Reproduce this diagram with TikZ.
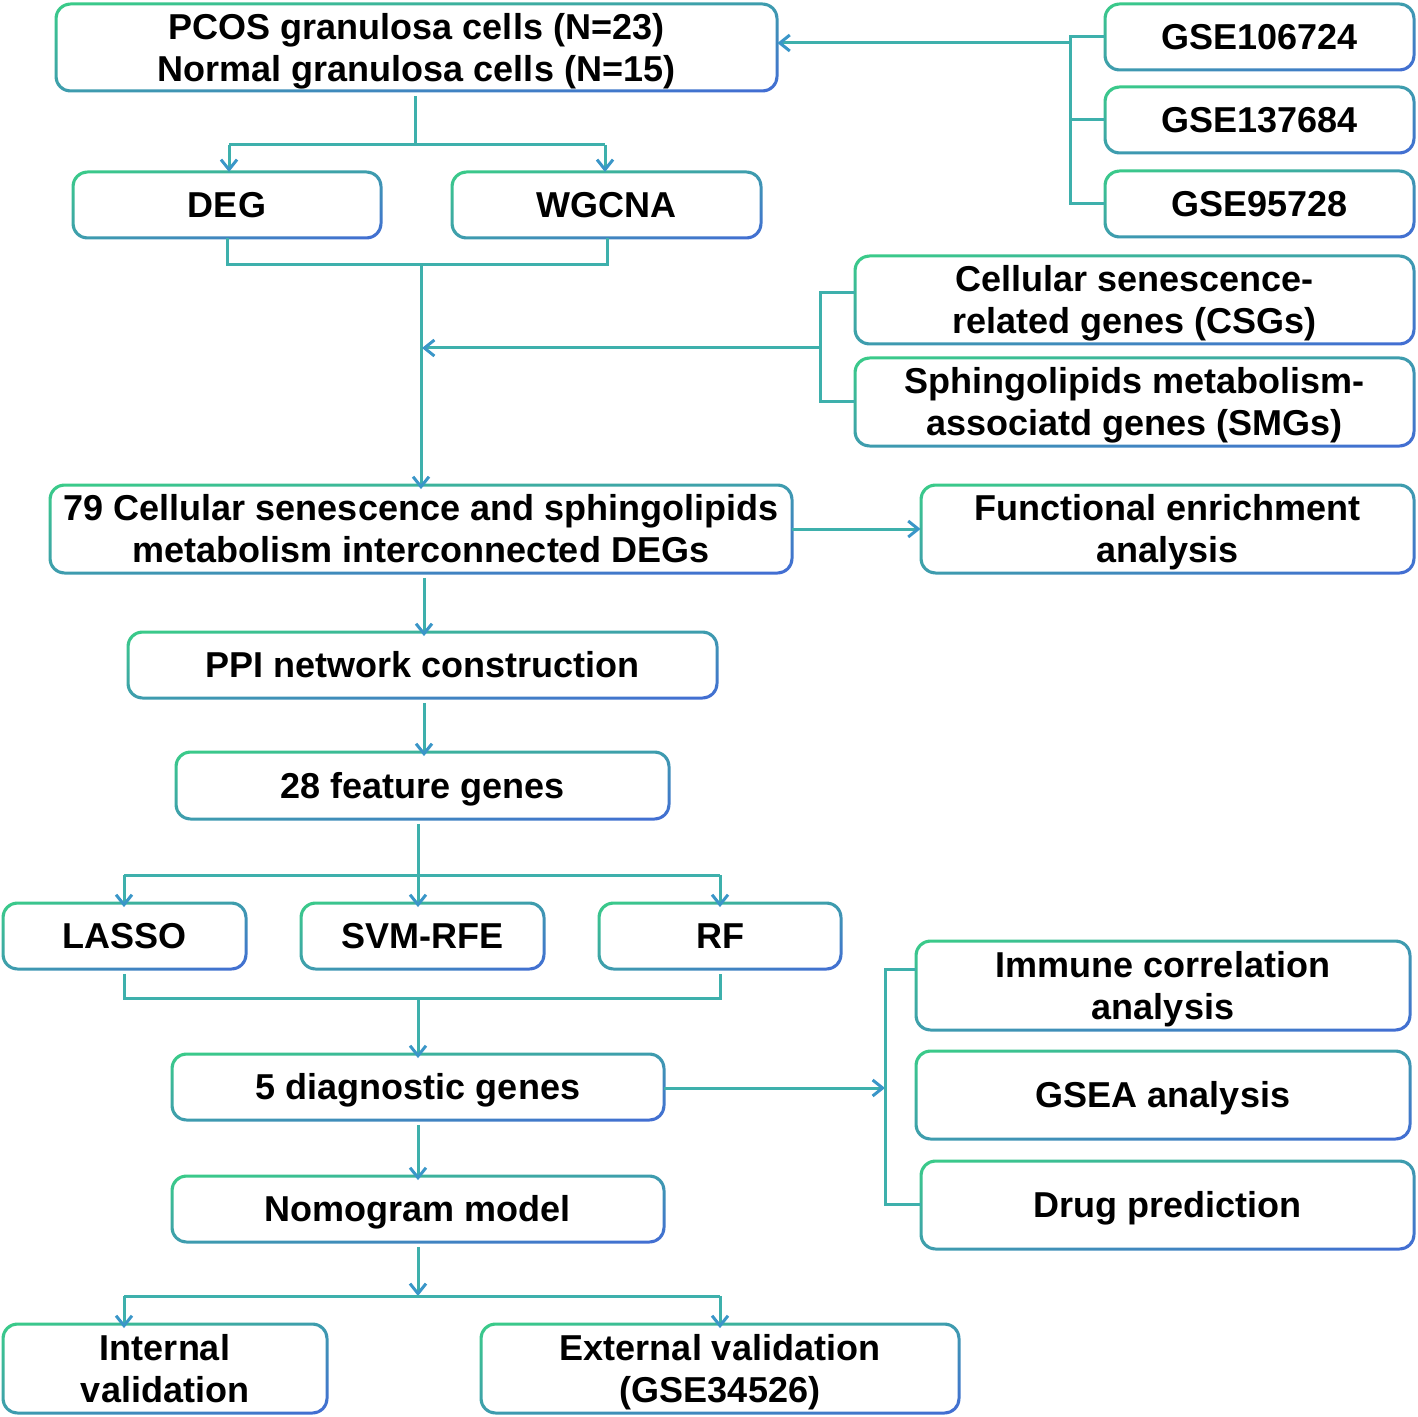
\documentclass[tikz,border=0pt]{standalone}
\usepackage{fontspec}
\setmainfont{Liberation Sans}
\usetikzlibrary{arrows.meta,calc}
\definecolor{gG}{RGB}{58,204,136}
\definecolor{gB}{RGB}{66,108,212}
\definecolor{cn}{RGB}{62,176,172}
\definecolor{ca}{RGB}{58,150,200}
\tikzset{
  boxtext/.style={inner sep=0pt, align=center, font=\bfseries\fontsize{18}{21}\selectfont, text=black, yshift=-2.25pt},
  two/.style={},
  conn/.style={draw=cn, line width=1.5pt},
  arr/.style={conn, -{Straight Barb[length=5pt,width=8pt,line width=1.5pt,color=ca]}},
}
\newcommand\gbox[7][]{%
  \node[boxtext, minimum width={(#5-#3)*0.5pt}, minimum height={(#6-#4)*0.5pt}, #1] (#2) at ({(#3+#5)/2},{(#4+#6)/2}) {\strut #7\strut};
  \pgfmathsetmacro\gw{(#5-#3)*0.25+0.75}%
  \pgfmathsetmacro\gh{(#6-#4)*0.25+0.75}%
  \pgfmathsetmacro\gd{veclen(\gw,\gh)}%
  \pgfmathsetmacro\gH{2*(\gw/\gd)*\gh}%
  \pgfmathsetmacro\ga{atan2(\gh,\gw)}%
  \pgfmathsetmacro\gx{(#3+#5)*0.25}%
  \pgfmathsetmacro\gy{-(#4+#6)*0.25}%
  \begin{scope}[even odd rule]
  \clip [rounded corners=8pt] ({#3-1.5},{#4-1.5}) rectangle ({#5+1.5},{#6+1.5})
     [rounded corners=6.5pt] ({#3+1.5},{#4+1.5}) rectangle ({#5-1.5},{#6-1.5});
  \begin{scope}[transform canvas={shift={(\gx pt,\gy pt)}, rotate=\ga}]
  \shade[top color=gG, bottom color=gB]
     (-\gd pt-4pt,-\gH pt) rectangle (\gd pt+4pt,\gH pt);
  \end{scope}
  \end{scope}
}
\begin{document}
\begin{tikzpicture}[x=0.5pt,y=-0.5pt]
\useasboundingbox (0,0) rectangle (1418,1417);
\gbox[two]{top}{56}{4}{777}{91}{PCOS granulosa cells (N=23)\\Normal granulosa cells (N=15)}
\gbox{deg}{73}{172}{381}{238}{DEG}
\gbox{wg}{452}{172}{761}{238}{WGCNA}
\gbox{ga}{1105}{4}{1414}{70}{GSE106724}
\gbox{gb}{1105}{87}{1414}{153}{GSE137684}
\gbox{gc}{1105}{171}{1414}{237}{GSE95728}
\gbox[two]{csg}{855}{256}{1414}{344}{Cellular senescence-\\related genes (CSGs)}
\gbox[two]{smg}{855}{358}{1414}{446}{Sphingolipids metabolism-\\associatd genes (SMGs)}
\gbox[two]{deg79}{50}{485}{792}{573}{79 Cellular senescence and sphingolipids\\metabolism interconnected DEGs}
\gbox[two]{fea}{921}{485}{1414}{573}{Functional enrichment\\analysis}
\gbox{ppi}{128}{632}{717}{698}{PPI network construction}
\gbox{f28}{176}{752}{669}{819}{28 feature genes}
\gbox{lasso}{3}{903}{246}{969}{LASSO}
\gbox{svm}{301}{903}{544}{969}{SVM-RFE}
\gbox{rf}{599}{903}{841}{969}{RF}
\gbox[two]{imm}{916}{941}{1410}{1030}{Immune correlation\\analysis}
\gbox{gsea}{916}{1051}{1410}{1139}{GSEA analysis}
\gbox{drug}{921}{1161}{1414}{1249}{Drug prediction}
\gbox{d5}{172}{1054}{664}{1120}{5 diagnostic genes}
\gbox{nomo}{172}{1176}{664}{1242}{Nomogram model}
\gbox[two]{intv}{3}{1324}{327}{1413}{Internal\\validation}
\gbox[two]{extv}{481}{1324}{959}{1413}{External validation\\(GSE34526)}
% top split
\coordinate (j1) at (415,145);
\draw[conn] (top.south -| j1) -- (j1);
\draw[conn] (229,145) -- (605,145);
\draw[arr] (229,145) -- (229,172);
\draw[arr] (605,145) -- (605,172);
% GSE bracket
\coordinate (bg) at (1070,43);
\draw[conn] (ga.west |- 0,37) -| (1070,204) -- (gc.west |- 0,204);
\draw[conn] (1070,120) -- (gb.west |- 0,120);
\draw[arr] (bg) -- (top.east |- bg);
% DEG/WGCNA merge
\draw[conn] (227,238) -- (227,265) -- (607,265) -- (607,238);
\coordinate (j2) at (421,265);
\coordinate (j3) at (422,348);
\draw[arr] (j2) -- (deg79.north -| j2);
% CSG/SMG bracket
\draw[conn] (csg.west |- 0,293) -| (820,402) -- (smg.west |- 0,402);
\draw[arr] (820,348) -- (j3);
% 79 -> functional / PPI
\draw[arr] (deg79.east |- 0,529) -- (fea.west |- 0,529);
\draw[arr] (deg79.south -| 424,0) -- (ppi.north -| 424,0);
\draw[arr] (ppi.south -| 424,0) -- (f28.north -| 424,0);
% 28 -> three methods
\coordinate (j4) at (418,875);
\draw[conn] (f28.south -| j4) -- (j4);
\draw[conn] (124,875) -- (720,875);
\draw[arr] (124,875) -- (lasso.north -| 124,0);
\draw[arr] (j4) -- (svm.north -| j4);
\draw[arr] (720,875) -- (rf.north -| 720,0);
% merge -> 5 diagnostic
\draw[conn] (lasso.south -| 124,0) -- (124,998) -- (720,998) -- (rf.south -| 720,0);
\coordinate (j5) at (418,998);
\draw[arr] (j5) -- (d5.north -| j5);
% 5 diag -> bracket
\coordinate (j6) at (885,1088);
\draw[arr] (d5.east |- j6) -- (j6);
\draw[conn] (imm.west |- 0,969) -| (885,1204) -- (drug.west |- 0,1204);
% 5 diag -> nomogram
\draw[arr] (d5.south -| j5) -- (nomo.north -| j5);
% nomogram -> validations
\coordinate (j7) at (418,1296);
\draw[arr] (nomo.south -| j7) -- (j7);
\draw[conn] (124,1296) -- (720,1296);
\draw[arr] (124,1296) -- (intv.north -| 124,0);
\draw[arr] (720,1296) -- (extv.north -| 720,0);
\end{tikzpicture}
\end{document}
